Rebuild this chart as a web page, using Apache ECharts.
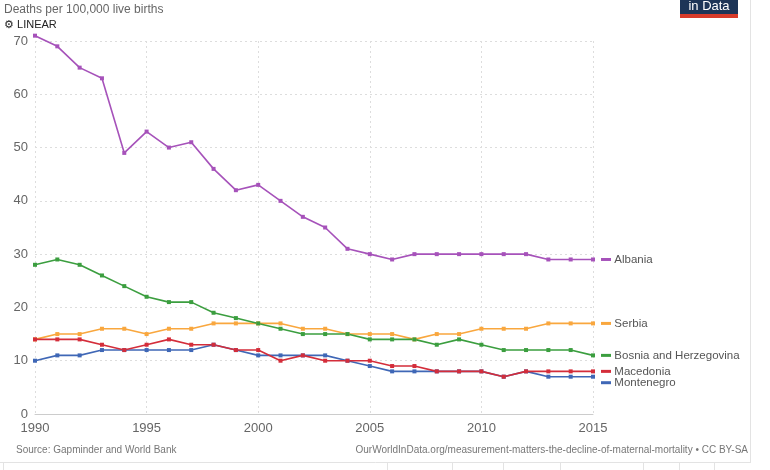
<!DOCTYPE html>
<html>
<head>
<meta charset="utf-8">
<script src="https://cdn.jsdelivr.net/npm/echarts@6/dist/echarts.min.js"></script>
<style>
  html, body { margin: 0; padding: 0; background: #fff; }
  #chart { width: 770px; height: 470px; }
</style>
</head>
<body>
<div id="chart"></div>
<script>
// years 1990..2015
const years = [1990, 1991, 1992, 1993, 1994, 1995, 1996, 1997, 1998, 1999, 2000, 2001, 2002,
  2003, 2004, 2005, 2006, 2007, 2008, 2009, 2010, 2011, 2012, 2013, 2014, 2015]

const albania = [71, 69, 65, 63, 49, 53, 50, 51, 46, 42, 43, 40, 37, 35, 31, 30, 29, 30, 30, 30, 30, 30, 30, 29, 29, 29]
const serbia = [14, 15, 15, 16, 16, 15, 16, 16, 17, 17, 17, 17, 16, 16, 15, 15, 15, 14, 15, 15, 16, 16, 16, 17, 17, 17]
const bosnia = [28, 29, 28, 26, 24, 22, 21, 21, 19, 18, 17, 16, 15, 15, 15, 14, 14, 14, 13, 14, 13, 12, 12, 12, 12, 11]
const macedonia = [14, 14, 14, 13, 12, 13, 14, 13, 13, 12, 12, 10, 11, 10, 10, 10, 9, 9, 8, 8, 8, 7, 8, 8, 8, 8]
const montenegro = [10, 11, 11, 12, 12, 12, 12, 12, 13, 12, 11, 11, 11, 11, 10, 9, 8, 8, 8, 8, 8, 7, 8, 7, 7, 7]

const yTicks = [0, 10, 20, 30, 40, 50, 60, 70]
const xTicks = [1990, 1995, 2000, 2005, 2010, 2015]

const FONT = 'Liberation Sans, Arial, sans-serif'

const pair = (vals) => vals.map((v, i) => [years[i], v])

const makeSeries = (name, vals, color, labelOffset) => ({
  name: name,
  type: 'line',
  data: pair(vals),
  clip: false,
  symbol: 'rect',
  symbolSize: 4,
  lineStyle: { width: 1.6, color: color },
  itemStyle: { color: color },
  emphasis: { disabled: true },
  endLabel: {
    show: true,
    distance: 8,
    offset: labelOffset || [0, 0],
    formatter: '{m| } {t|' + name + '}',
    rich: {
      m: { width: 10, height: 3, backgroundColor: color },
      t: { fontFamily: FONT, fontSize: 11.5, color: '#555' }
    }
  }
})

const chart = echarts.init(document.getElementById('chart'), null, { renderer: 'canvas' })

const option = {
  animation: false,
  backgroundColor: '#fff',
  textStyle: { fontFamily: FONT },
  grid: { left: 35, right: 177, top: 41, bottom: 56, containLabel: false },
  xAxis: {
    type: 'value',
    min: 1990,
    max: 2015,
    interval: 5,
    axisLine: { show: true, lineStyle: { color: '#ccc' } },
    axisTick: { show: false },
    axisLabel: {
      color: '#666', fontSize: 13, margin: 8, fontFamily: FONT,
      formatter: (v) => xTicks.includes(v) ? String(v) : ''
    },
    splitLine: { show: true, lineStyle: { color: '#ddd', type: [2, 3] } }
  },
  yAxis: {
    type: 'value',
    min: 0,
    max: 70,
    interval: 10,
    axisLine: { show: false },
    axisTick: { show: false },
    axisLabel: {
      color: '#666', fontSize: 13, margin: 7, fontFamily: FONT,
      formatter: (v) => yTicks.includes(v) ? String(v) : ''
    },
    splitLine: { show: true, lineStyle: { color: '#ddd', type: [2, 3] } }
  },
  series: [
    makeSeries('Albania', albania, '#a652ba'),
    makeSeries('Serbia', serbia, '#f9a73e'),
    makeSeries('Bosnia and Herzegovina', bosnia, '#3b9e3f'),
    makeSeries('Montenegro', montenegro, '#3f67b6', [0, 6]),
    makeSeries('Macedonia', macedonia, '#d42d3a')
  ],
  graphic: [
    // header
    { type: 'text', left: 4, top: 4, style: { text: 'Deaths per 100,000 live births', fontSize: 12, fill: '#666', fontFamily: FONT } },
    { type: 'text', left: 4, top: 19, style: { text: '⚙ LINEAR', fontSize: 11, fill: '#222', fontFamily: FONT } },
    // logo
    { type: 'rect', shape: { x: 680, y: 0, width: 58, height: 14 }, style: { fill: '#1d3557' } },
    { type: 'rect', shape: { x: 680, y: 14, width: 58, height: 4 }, style: { fill: '#d73b2a' } },
    { type: 'text', x: 709, y: 6, style: { text: 'in Data', fontSize: 13, fill: '#fff', align: 'center', verticalAlign: 'middle', fontFamily: FONT } },
    // footer
    { type: 'text', left: 16, top: 445, style: { text: 'Source: Gapminder and World Bank', fontSize: 10, fill: '#777', fontFamily: FONT } },
    { type: 'text', x: 748, y: 445, style: { text: 'OurWorldInData.org/measurement-matters-the-decline-of-maternal-mortality • CC BY-SA', fontSize: 10, fill: '#777', align: 'right', fontFamily: FONT } },
    // frame
    { type: 'line', shape: { x1: 750.5, y1: 0, x2: 750.5, y2: 462 }, style: { stroke: '#e3e3e3', lineWidth: 1 } },
    { type: 'line', shape: { x1: 0, y1: 462.5, x2: 751, y2: 462.5 }, style: { stroke: '#e3e3e3', lineWidth: 1 } },
    ...[3, 387, 452, 503, 560, 643, 679, 714].map(x => ({
      type: 'line', shape: { x1: x + 0.5, y1: 462, x2: x + 0.5, y2: 470 }, style: { stroke: '#e3e3e3', lineWidth: 1 }
    }))
  ]
}

chart.setOption(option)
</script>
</body>
</html>
